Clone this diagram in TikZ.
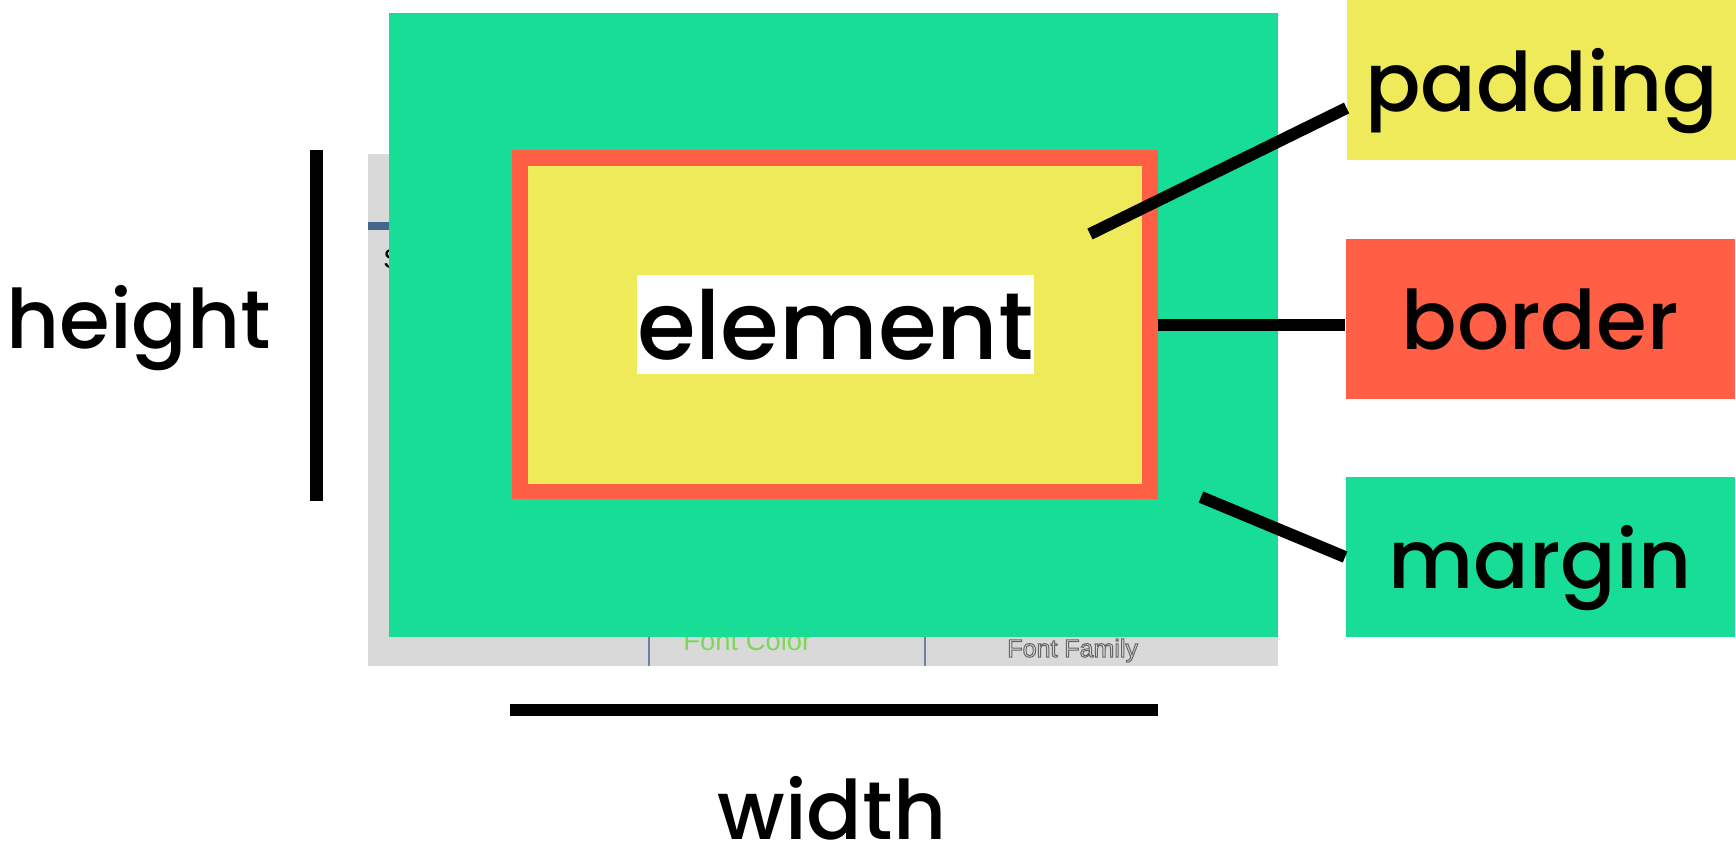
\documentclass[tikz,border=0pt]{standalone}
\usepackage{fontspec}
\setmainfont{Poppins}[UprightFont={* Medium}]
\newfontfamily\uifont{Liberation Sans}
\usetikzlibrary{positioning}
\definecolor{Mint}{RGB}{24,221,150}
\definecolor{Lemon}{RGB}{239,234,90}
\definecolor{Coral}{RGB}{255,95,69}
\definecolor{Panel}{RGB}{217,217,217}
\definecolor{Slate}{RGB}{70,100,140}
\definecolor{Leaf}{RGB}{125,216,90}
\newcommand{\outlined}[1]{\special{pdf:literal direct 0.5 w 1 Tr}#1\special{pdf:literal direct 0 Tr}}

\begin{document}
\begin{tikzpicture}[x=.5pt,y=-.5pt,
    word/.style={font=\fontsize{41}{41}\selectfont,inner sep=0pt},
    tag/.style={word,text depth=0pt,minimum width=194.5pt,minimum height=80pt},
    wire/.style={line width=6pt},
    ui/.style={inner sep=0pt,anchor=base west,font=\uifont\fontsize{13.7}{14}\selectfont}]
    \useasboundingbox (0,0) rectangle (1736,864);
    % the page behind
    \fill[Panel] (368,154) rectangle (1278,666);
    \fill[Slate] (368,222) rectangle (389,230);
    \node[ui] (stub) at (383,268) {S};
    \node[ui,text=Leaf] (fcolor) at (683,650) {Font Color};
    \node[ui,text=black!60,font=\uifont\fontsize{12.5}{13}\selectfont] (ffamily) at (1007,657) {\outlined{Font Family}};
    \draw[Slate!80,line width=1pt] (648.5,637)--(648.5,666) (925,637)--(925,666);
    % box model
    \fill[Mint] (389,13) rectangle (1278,637);
    \node[fill=Lemon,draw=Coral,line width=7.75pt,minimum width=315pt,minimum height=166.75pt] (box) at (835,324.5) {};
    \node[fill=white,inner sep=0pt,minimum width=197.5pt,minimum height=49.5pt,font=\fontsize{47.5}{48}\selectfont] (elem) at (835.5,324.5) {element};
    % sizes
    \node[word,anchor=base west] (height) at (6,348) {height};
    \draw[line width=6.5pt] (316.5,150)--(316.5,501);
    \draw[line width=6pt] (510,710)--(1158,710);
    \node[word,anchor=base] (width) at (832,839) {width};
    % labels
    \node[tag,fill=Lemon] (padding) at (1541.5,80) {padding};
    \node[tag,fill=Coral] (border) at (1540,319) {border};
    \node[tag,fill=Mint] (margin) at (1540,557) {margin};
    \coordinate (padpt) at (1090,234);
    \coordinate (marpt) at (1201,497);
    \draw[wire] (padpt)--([yshift=-14pt]padding.west);
    \draw[wire] (box.east)--(box.east-|border.west);
    \draw[wire] (marpt)--(margin.west);
  \end{tikzpicture}
\end{document}
